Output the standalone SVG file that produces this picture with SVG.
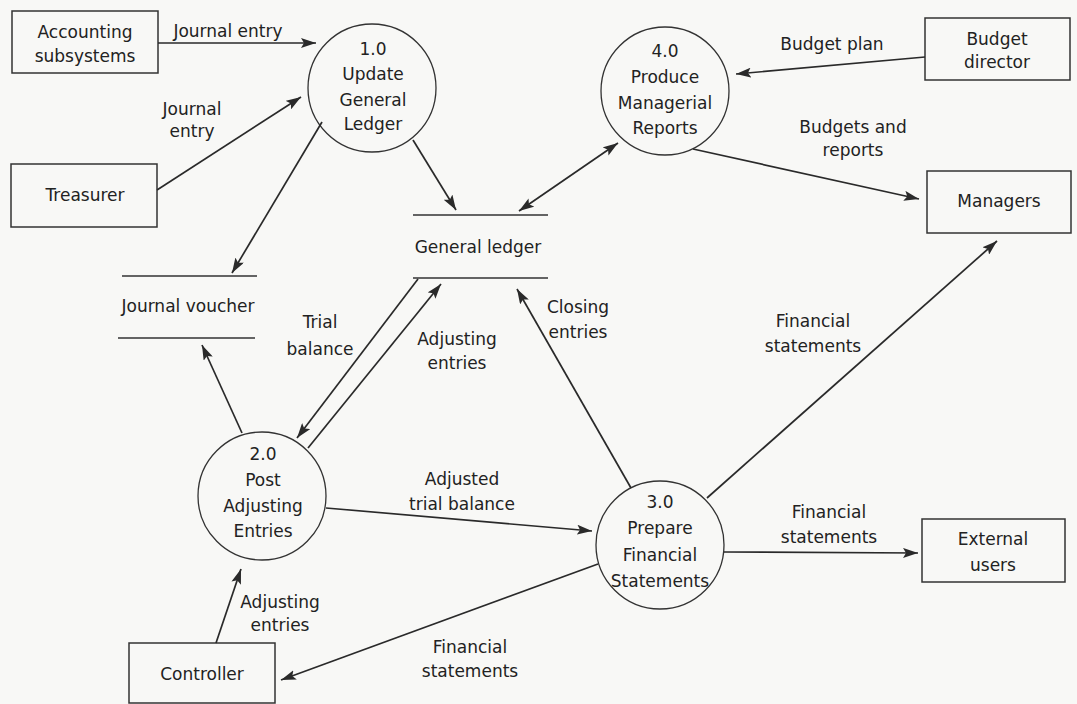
<svg xmlns="http://www.w3.org/2000/svg" width="1077" height="704" viewBox="0 0 1077 704">
<style>
text{font-family:"DejaVu Sans","Liberation Sans",sans-serif;font-size:17px;fill:#222;text-anchor:middle}
.box{fill:none;stroke:#333;stroke-width:1.5}
.proc{fill:none;stroke:#333;stroke-width:1.3}
.store{stroke:#333;stroke-width:1.6}
.flow{stroke:#2a2a2a;stroke-width:1.7;fill:none;marker-end:url(#ah)}
.both{marker-start:url(#ah)}
</style>
<defs>
<marker id="ah" markerUnits="userSpaceOnUse" markerWidth="16" markerHeight="10" refX="15" refY="5" orient="auto-start-reverse">
<path d="M0,0 L15,5 L0,10 L3,5 z" fill="#2a2a2a"/>
</marker>
</defs>
<rect width="1077" height="704" fill="#f8f8f6"/>

<g id="accounting-subsystems">
<rect class="box" x="12" y="11" width="146" height="62"/>
<text x="85" y="38">Accounting</text>
<text x="85" y="62">subsystems</text>
</g>
<g id="treasurer">
<rect class="box" x="11" y="164" width="146" height="63"/>
<text x="85" y="201">Treasurer</text>
</g>
<g id="budget-director">
<rect class="box" x="925" y="18" width="145" height="62"/>
<text x="997" y="45">Budget</text>
<text x="997" y="68">director</text>
</g>
<g id="managers">
<rect class="box" x="927" y="171" width="144" height="62"/>
<text x="999" y="207">Managers</text>
</g>
<g id="external-users">
<rect class="box" x="922" y="519" width="143" height="63"/>
<text x="993" y="545">External</text>
<text x="993" y="571">users</text>
</g>
<g id="controller">
<rect class="box" x="129" y="643" width="146" height="60"/>
<text x="202" y="680">Controller</text>
</g>

<g id="p1">
<circle class="proc" cx="372" cy="88" r="64"/>
<text x="373" y="55">1.0</text>
<text x="373" y="80">Update</text>
<text x="373" y="106">General</text>
<text x="373" y="130">Ledger</text>
</g>
<g id="p4">
<circle class="proc" cx="665" cy="91" r="64"/>
<text x="665" y="57">4.0</text>
<text x="665" y="83">Produce</text>
<text x="665" y="109">Managerial</text>
<text x="665" y="134">Reports</text>
</g>
<g id="p2">
<circle class="proc" cx="262" cy="496" r="64"/>
<text x="263" y="460">2.0</text>
<text x="263" y="486">Post</text>
<text x="263" y="512">Adjusting</text>
<text x="263" y="537">Entries</text>
</g>
<g id="p3">
<circle class="proc" cx="660" cy="545" r="64"/>
<text x="660" y="508">3.0</text>
<text x="660" y="534">Prepare</text>
<text x="660" y="561">Financial</text>
<text x="660" y="587">Statements</text>
</g>

<g id="journal-voucher">
<line class="store" x1="122" y1="276" x2="257" y2="276"/>
<line class="store" x1="118" y1="338" x2="255" y2="338"/>
<text x="188" y="312">Journal voucher</text>
</g>
<g id="general-ledger">
<line class="store" x1="413" y1="215" x2="548" y2="215"/>
<line class="store" x1="413" y1="278" x2="548" y2="278"/>
<text x="478" y="253">General ledger</text>
</g>

<g id="connectors">
<line class="flow" x1="158" y1="43" x2="316" y2="43"/>
<line class="flow" x1="157" y1="190" x2="301" y2="97"/>
<line class="flow" x1="322" y1="122" x2="232" y2="273"/>
<line class="flow" x1="413" y1="140" x2="456" y2="210"/>
<line class="flow both" x1="519" y1="211" x2="618" y2="143"/>
<line class="flow" x1="925" y1="57" x2="736" y2="74"/>
<line class="flow" x1="693" y1="149" x2="919" y2="199"/>
<line class="flow" x1="242" y1="433" x2="202" y2="345"/>
<line class="flow" x1="418" y1="279" x2="297" y2="438"/>
<line class="flow" x1="308" y1="448" x2="441" y2="284"/>
<line class="flow" x1="631" y1="488" x2="517" y2="289"/>
<line class="flow" x1="707" y1="498" x2="997" y2="241"/>
<line class="flow" x1="326" y1="508" x2="592" y2="531"/>
<line class="flow" x1="724" y1="552" x2="918" y2="553"/>
<line class="flow" x1="598" y1="564" x2="281" y2="680"/>
<line class="flow" x1="216" y1="643" x2="241" y2="569"/>
</g>

<g id="labels">
<text x="228" y="37">Journal entry</text>
<text x="192" y="115">Journal</text>
<text x="192" y="137">entry</text>
<text x="832" y="50">Budget plan</text>
<text x="853" y="133">Budgets and</text>
<text x="853" y="156">reports</text>
<text x="320" y="328">Trial</text>
<text x="320" y="355">balance</text>
<text x="457" y="345">Adjusting</text>
<text x="457" y="369">entries</text>
<text x="578" y="313">Closing</text>
<text x="578" y="338">entries</text>
<text x="813" y="327">Financial</text>
<text x="813" y="352">statements</text>
<text x="462" y="485">Adjusted</text>
<text x="462" y="510">trial balance</text>
<text x="829" y="518">Financial</text>
<text x="829" y="543">statements</text>
<text x="280" y="608">Adjusting</text>
<text x="280" y="631">entries</text>
<text x="470" y="653">Financial</text>
<text x="470" y="677">statements</text>
</g>
</svg>
